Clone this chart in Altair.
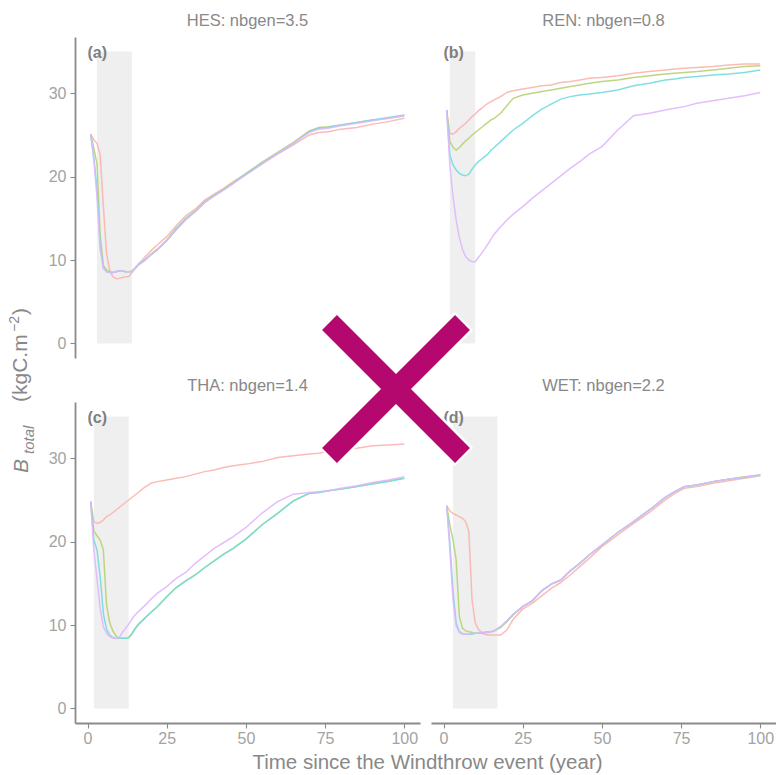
import altair as alt
import pandas as pd

# Years since the windthrow event at which biomass was sampled
years = [1, 2, 3, 4, 5, 6, 7, 8, 9, 10, 11, 12, 13, 14, 15, 16, 18, 20, 22, 25,
         28, 31, 34, 37, 40, 43, 46, 50, 55, 60, 65, 70, 73, 76, 80, 85, 90, 95, 100]

# Total biomass (kgC.m-2), four simulation runs per site
hes_run1 = [25.1, 24.4, 24.0, 22.6, 16.5, 10.8, 8.8, 8.0, 7.75, 7.8, 7.9, 8.0, 8.0, 8.5, 9.0, 9.5,
            10.3, 11.1, 11.8, 12.8, 14.1, 15.3, 16.1, 17.2, 17.9, 18.6, 19.4,
            20.3, 21.5, 22.7, 23.8, 25.0, 25.3, 25.4, 25.7, 25.9, 26.3, 26.6, 27.0]
hes_run2 = [25.1, 23.4, 21.5, 13.0, 9.4, 8.8, 8.6, 8.5, 8.6, 8.7, 8.7, 8.6, 8.6, 8.7, 9.0, 9.4,
            10.0, 10.7, 11.3, 12.4, 13.8, 15.0, 15.9, 17.0, 17.8, 18.5, 19.3,
            20.4, 21.7, 22.9, 24.1, 25.5, 25.9, 26.0, 26.2, 26.5, 26.8, 27.0, 27.3]
hes_run3 = [25.1, 22.3, 18.5, 11.8, 9.1, 8.6, 8.5, 8.5, 8.6, 8.7, 8.7, 8.6, 8.6, 8.6, 9.0, 9.4,
            10.0, 10.6, 11.2, 12.3, 13.7, 14.9, 15.8, 16.9, 17.7, 18.4, 19.2,
            20.3, 21.6, 22.8, 24.0, 25.4, 25.8, 25.9, 26.2, 26.5, 26.8, 27.1, 27.4]
hes_run4 = [25.1, 22.0, 17.5, 11.3, 9.0, 8.6, 8.5, 8.5, 8.6, 8.7, 8.7, 8.6, 8.6, 8.6, 9.0, 9.4,
            9.9, 10.6, 11.2, 12.3, 13.6, 14.8, 15.8, 16.9, 17.7, 18.4, 19.2,
            20.2, 21.5, 22.8, 24.0, 25.3, 25.7, 25.8, 26.1, 26.4, 26.7, 27.0, 27.3]

ren_run1 = [28.0, 25.2, 25.1, 25.4, 25.8, 26.1, 26.4, 26.8, 27.2, 27.5, 27.9, 28.2, 28.5, 28.8, 29.0, 29.2,
            29.6, 30.1, 30.3, 30.5, 30.7, 30.9, 31.0, 31.3, 31.4, 31.6, 31.8,
            31.9, 32.1, 32.4, 32.6, 32.8, 32.9, 33.0, 33.1, 33.2, 33.4, 33.5, 33.5]
ren_run2 = [28.0, 24.2, 23.5, 23.2, 23.5, 23.9, 24.3, 24.6, 25.0, 25.3, 25.6, 25.9, 26.2, 26.5, 26.8, 27.0,
            27.6, 28.5, 29.4, 29.8, 30.0, 30.2, 30.4, 30.6, 30.8, 31.0, 31.2,
            31.4, 31.6, 31.9, 32.1, 32.3, 32.4, 32.5, 32.6, 32.8, 33.0, 33.2, 33.3]
ren_run3 = [28.0, 22.6, 21.4, 20.8, 20.4, 20.2, 20.1, 20.3, 20.9, 21.4, 21.8, 22.1, 22.4, 22.7, 23.2, 23.5,
            24.2, 24.9, 25.6, 26.4, 27.3, 28.1, 28.7, 29.3, 29.6, 29.8, 29.9,
            30.1, 30.4, 30.9, 31.2, 31.6, 31.7, 31.9, 32.0, 32.2, 32.3, 32.5, 32.8]
ren_run4 = [28.0, 21.4, 17.6, 14.8, 12.7, 11.3, 10.4, 10.0, 9.8, 9.8, 10.3, 10.8, 11.3, 11.9, 12.5, 13.1,
            14.0, 14.8, 15.5, 16.4, 17.4, 18.3, 19.2, 20.1, 21.0, 21.8, 22.7,
            23.6, 25.6, 27.3, 27.6, 28.0, 28.2, 28.4, 28.8, 29.1, 29.4, 29.7, 30.1]

tha_run1 = [24.8, 22.4, 22.2, 22.3, 22.6, 23.0, 23.2, 23.5, 23.8, 24.1, 24.4, 24.7, 25.0, 25.3, 25.6, 25.9,
            26.5, 27.0, 27.2, 27.4, 27.6, 27.8, 28.1, 28.4, 28.6, 28.9, 29.1,
            29.3, 29.6, 30.1, 30.3, 30.5, 30.6, 30.8, 31.0, 31.2, 31.5, 31.6, 31.7]
tha_run2 = [24.8, 21.3, 20.7, 20.2, 19.0, 12.4, 10.3, 9.3, 8.7, 8.4, 8.4, 8.4, 8.5, 9.0, 9.6, 10.1,
            10.8, 11.5, 12.2, 13.4, 14.5, 15.3, 16.0, 16.9, 17.7, 18.5, 19.2,
            20.3, 22.0, 23.4, 24.9, 25.8, 25.9, 26.1, 26.3, 26.6, 27.0, 27.3, 27.6]
tha_run3 = [24.8, 20.2, 19.0, 15.8, 11.4, 9.5, 8.8, 8.5, 8.4, 8.4, 8.4, 8.4, 8.5, 8.9, 9.5, 10.0,
            10.8, 11.5, 12.2, 13.4, 14.5, 15.3, 16.0, 16.9, 17.7, 18.5, 19.2,
            20.3, 22.0, 23.4, 24.9, 25.8, 25.9, 26.1, 26.3, 26.6, 26.9, 27.2, 27.6]
tha_run4 = [24.8, 19.0, 15.5, 12.0, 9.8, 9.0, 8.6, 8.45, 8.4, 8.5, 9.1, 9.6, 10.1, 10.7, 11.2, 11.6,
            12.3, 13.1, 13.8, 14.6, 15.6, 16.3, 17.4, 18.3, 19.2, 19.9, 20.6,
            21.7, 23.4, 24.8, 25.7, 25.9, 26.0, 26.1, 26.4, 26.7, 27.1, 27.4, 27.8]

wet_run1 = [24.3, 23.7, 23.4, 23.2, 23.0, 22.8, 22.4, 21.2, 13.0, 10.3, 9.5, 9.1, 8.9, 8.8, 8.8, 8.8,
            8.8, 9.4, 10.7, 11.9, 12.6, 13.5, 14.4, 15.1, 16.0, 17.0, 18.0,
            19.4, 20.8, 22.2, 23.5, 25.0, 25.8, 26.4, 26.6, 27.0, 27.3, 27.6, 27.9]
wet_run2 = [24.3, 22.0, 20.2, 17.8, 11.0, 9.6, 9.3, 9.2, 9.1, 9.0, 9.0, 9.0, 9.1, 9.2, 9.2, 9.3,
            9.7, 10.4, 11.2, 12.2, 12.9, 14.1, 14.9, 15.4, 16.5, 17.4, 18.4,
            19.6, 21.1, 22.4, 23.8, 25.3, 26.0, 26.6, 26.8, 27.2, 27.5, 27.8, 28.0]
wet_run3 = [24.3, 20.0, 14.0, 10.2, 9.2, 9.0, 8.9, 8.9, 8.9, 9.0, 9.0, 9.1, 9.1, 9.1, 9.2, 9.3,
            9.8, 10.5, 11.3, 12.2, 12.9, 14.1, 14.9, 15.4, 16.5, 17.4, 18.4,
            19.6, 21.1, 22.4, 23.8, 25.3, 26.0, 26.6, 26.8, 27.2, 27.5, 27.7, 28.0]
wet_run4 = [24.3, 19.0, 13.0, 9.9, 9.1, 8.9, 8.9, 8.9, 9.0, 9.0, 9.0, 9.1, 9.1, 9.1, 9.2, 9.3,
            9.8, 10.5, 11.3, 12.2, 12.9, 14.1, 14.9, 15.4, 16.5, 17.4, 18.4,
            19.6, 21.1, 22.4, 23.8, 25.3, 26.0, 26.6, 26.8, 27.2, 27.5, 27.7, 28.0]

sites = ["HES", "REN", "THA", "WET"]
nbgen = [3.5, 0.8, 1.4, 2.2]
panel_tags = ["(a)", "(b)", "(c)", "(d)"]
runs = ["run1", "run2", "run3", "run4"]
site_runs = [
    [hes_run1, hes_run2, hes_run3, hes_run4],
    [ren_run1, ren_run2, ren_run3, ren_run4],
    [tha_run1, tha_run2, tha_run3, tha_run4],
    [wet_run1, wet_run2, wet_run3, wet_run4],
]
# Recovery window shaded behind the curves (years)
shade_start = [3, 2, 2, 3]
shade_end = [14, 10, 13, 17]
shade_top = 35
x_ticks = [0, 25, 50, 75, 100]
y_ticks = [0, 10, 20, 30]

# ---- styling -------------------------------------------------------------
FONT = "Liberation Sans"
# hue palette softened toward white
PALETTE = ["#FBB4AF", "#B7D273", "#73DCDF", "#E0B7FF"]
W, H = 345, 321
X_DOMAIN = [-3.95, 104.95]
Y_DOMAIN = [-1.75, 36.75]
AXIS_GRAY = "#8a8a8a"
LABEL_GRAY = "#a3a3a3"
TITLE_GRAY = "#888888"
CROSS = "#B4086E"

x_scale = alt.Scale(domain=X_DOMAIN, nice=False, zero=False)
y_scale = alt.Scale(domain=Y_DOMAIN, nice=False, zero=False)


def make_axis(values, padding):
    return alt.Axis(values=values, title=None, grid=False, domainColor=AXIS_GRAY,
                    domainWidth=1.8, tickColor=AXIS_GRAY, tickWidth=1.1, tickSize=5,
                    labelColor=LABEL_GRAY, labelFontSize=16, labelFont=FONT,
                    labelPadding=padding, labelFlush=False)


one_row = pd.DataFrame({"k": [0]})


def fixed_text(text, px, py, **style):
    return alt.Chart(one_row).mark_text(text=text, font=FONT, **style).encode(
        x=alt.value(px), y=alt.value(py))


def fixed_rule(x0, y0, x1, y1, **style):
    return alt.Chart(one_row).mark_rule(**style).encode(
        x=alt.value(x0), y=alt.value(y0), x2=alt.value(x1), y2=alt.value(y1))


def build_panel(k):
    show_x = k >= 2
    show_y = k % 2 == 0
    x_axis = make_axis(x_ticks, 2) if show_x else None
    y_axis = make_axis(y_ticks, 4) if show_y else None

    def xenc(field):
        return alt.X(field, type="quantitative", scale=x_scale, axis=x_axis)

    def yenc(field):
        return alt.Y(field, type="quantitative", scale=y_scale, axis=y_axis)

    rows = []
    for run, values in zip(runs, site_runs[k]):
        for t, v in zip(years, values):
            rows.append({"year": t, "btotal": v, "run": run})
    curves = pd.DataFrame(rows)

    shade = alt.Chart(pd.DataFrame({"x0": [shade_start[k]], "x1": [shade_end[k]],
                                    "y0": [0], "y1": [shade_top]})).mark_rect(
        color="#efefef").encode(x=xenc("x0"), x2="x1", y=yenc("y0"), y2="y1")

    lines = alt.Chart(curves).mark_line(strokeWidth=1.5, opacity=0.9).encode(
        x=xenc("year"), y=yenc("btotal"),
        color=alt.Color("run:N", scale=alt.Scale(domain=runs, range=PALETTE), legend=None),
    )

    tag = alt.Chart(pd.DataFrame({"x": [0], "y": [34.8], "tag": [panel_tags[k]]})).mark_text(
        align="left", baseline="middle", fontWeight="bold", fontSize=16,
        color="#7f7f7f", font=FONT).encode(x=xenc("x"), y=yenc("y"), text="tag:N")

    strip = fixed_text(f"{sites[k]}: nbgen={nbgen[k]}", W / 2, -16, align="center",
                       baseline="middle", fontSize=16.5, color=TITLE_GRAY)

    layers = [shade, lines, tag, strip]

    if k == 0:
        # keeps the chart's top-left corner fixed
        layers.append(fixed_rule(-75, -37, -74, -37, color="white", opacity=0))
        # rotated y title: B_total (kgC.m^-2)
        rot = dict(angle=270, align="left", baseline="alphabetic", color=TITLE_GRAY)
        layers += [
            fixed_text("B", -47, 436, fontSize=21, fontStyle="italic", **rot),
            fixed_text("total", -41.5, 417, fontSize=15, fontStyle="italic", **rot),
            fixed_text("(kgC.m", -48, 365, fontSize=21, **rot),
            fixed_text("\u22122", -56, 295, fontSize=14, **rot),
            fixed_text(")", -48, 278, fontSize=21, **rot),
        ]

    if k == 3:
        layers.append(fixed_text("Time since the Windthrow event (year)", -3.5, 367,
                                 align="center", baseline="alphabetic", fontSize=20.5,
                                 color=TITLE_GRAY))
        # large cross drawn over the grid
        cx, cy, arm = -35, -13, 66.5
        ext = arm + 1.5
        for sx in (1, -1):
            layers.append(fixed_rule(cx - sx * ext, cy - ext, cx + sx * ext, cy + ext,
                                     color="white", strokeWidth=26, strokeCap="butt"))
        for sx in (1, -1):
            layers.append(fixed_rule(cx - sx * arm, cy - arm, cx + sx * arm, cy + arm,
                                     color=CROSS, strokeWidth=21, strokeCap="butt"))

    return alt.layer(*layers).properties(width=W, height=H)


chart = alt.concat(
    *[build_panel(k) for k in range(4)],
    columns=2,
    spacing={"row": 44, "column": 11},
    bounds="flush",
).properties(
    padding=0,
).configure(
    font=FONT,
).configure_view(
    stroke=None,
)

chart.save("out.html", embed_options={"renderer": "svg", "actions": False})
